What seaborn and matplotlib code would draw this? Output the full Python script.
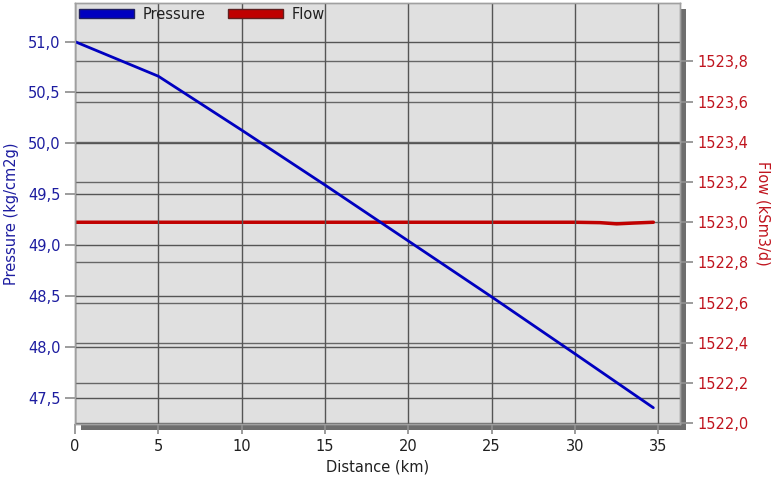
import matplotlib
matplotlib.use("Agg")
import matplotlib.pyplot as plt
from matplotlib.patches import Rectangle, Patch
from matplotlib.ticker import FuncFormatter, MultipleLocator, FixedLocator
import seaborn as sns
import pandas as pd

distance_p = [0, 5, 10, 15, 20, 25, 30, 34.7]
pressure = [51.0, 50.66, 50.13, 49.59, 49.04, 48.49, 47.93, 47.40]
distance_f = [0, 5, 10, 15, 20, 25, 30, 31.5, 32.5, 33.5, 34.7]
flow = [1523.0, 1523.0, 1523.0, 1523.0, 1523.0, 1523.0, 1523.0, 1522.998, 1522.992, 1522.996, 1523.0]
pressure_ticks = [47.5, 48.0, 48.5, 49.0, 49.5, 50.0, 50.5, 51.0]
flow_ticks = [1522.0, 1522.2, 1522.4, 1522.6, 1522.8, 1523.0, 1523.2, 1523.4, 1523.6, 1523.8]

sns.set_theme(style="white")
plt.rcParams['font.family'] = ['DejaVu Sans']

W, H = 771, 479
fig = plt.figure(figsize=(W/100, H/100), dpi=100)
l, r, b, t = 75/W, 680/W, (H-424)/H, (H-3)/H
ax = fig.add_axes([l, b, r-l, t-b])
ax2 = ax.twinx()

# shadow
shadow = Rectangle((l + 6/W, b - 6/H), r-l, t-b, transform=fig.transFigure,
                   facecolor='#6e6e6e', edgecolor='none', zorder=-10)
fig.patches.append(shadow)

ax.set_zorder(ax2.get_zorder() + 1)
ax.patch.set_visible(False)
ax2.patch.set_visible(True)
ax2.patch.set_facecolor('#e0e0e0')

dfp = pd.DataFrame({'Distance': distance_p, 'Pressure': pressure})
dff = pd.DataFrame({'Distance': distance_f, 'Flow': flow})
sns.lineplot(data=dfp, x='Distance', y='Pressure', ax=ax, color='#0000c0', linewidth=2)
sns.lineplot(data=dff, x='Distance', y='Flow', ax=ax2, color='#c00000', linewidth=2.5)

ax.set_xlim(0, 36.3)
ax.set_ylim(47.24, 51.38)
ax2.set_ylim(1521.997, 1524.09)

comma = lambda fmt: FuncFormatter(lambda v, p: fmt.format(v).replace('.', ','))
ax.xaxis.set_major_locator(MultipleLocator(5))
ax.xaxis.set_major_formatter(FuncFormatter(lambda v, p: f"{v:.0f}"))
ax.yaxis.set_major_locator(FixedLocator(pressure_ticks))
ax.yaxis.set_major_formatter(comma("{:.1f}"))
ax2.yaxis.set_major_locator(FixedLocator(flow_ticks))
ax2.yaxis.set_major_formatter(comma("{:.1f}"))

ax.grid(True, axis='both', color='#555555', linewidth=1)
ax2.grid(True, axis='y', color='#666666', linewidth=1)
ax.set_axisbelow(True)
ax2.set_axisbelow(True)

fs = 10.5
ax.tick_params(axis='x', direction='out', length=7, color='#909090', labelsize=fs, labelcolor='#202020', bottom=True)
ax.tick_params(axis='y', direction='out', length=7, color='#909090', labelsize=fs, labelcolor='#1c1ca0', left=True)
ax2.tick_params(axis='y', direction='out', length=9, color='#909090', labelsize=fs, labelcolor='#c0141e', right=True)

for a in (ax, ax2):
    for s in a.spines.values():
        s.set_color('#a0a0a0')
        s.set_linewidth(1)

ax.set_xlabel('Distance (km)', fontsize=fs, color='#202020', labelpad=4)
ax.set_ylabel('Pressure (kg/cm2g)', fontsize=fs, color='#1c1ca0', labelpad=6)
ax2.set_ylabel('Flow (kSm3/d)', fontsize=fs, color='#c0141e', rotation=270, labelpad=16)

handles = [Patch(facecolor='#0000c0', edgecolor='#202060', label='Pressure'),
           Patch(facecolor='#c00000', edgecolor='#602020', label='Flow')]
leg = ax.legend(handles=handles, loc='upper left', ncol=2, frameon=False, fontsize=fs,
                handlelength=3.8, handleheight=0.55, handletextpad=0.6, columnspacing=1.5,
                bbox_to_anchor=(-0.008, 1.012), borderaxespad=0.2)
for txt in leg.get_texts():
    txt.set_color('#202020')

fig.savefig('out.png', dpi=100)
